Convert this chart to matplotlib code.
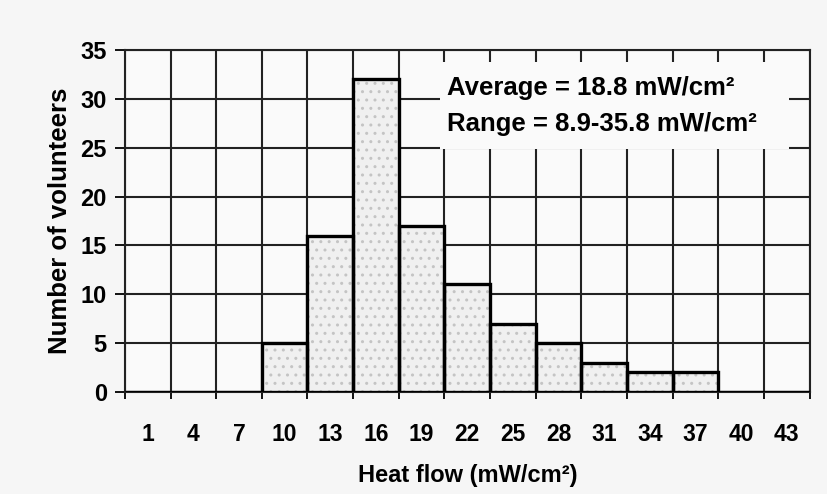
import matplotlib
matplotlib.use("Agg")
import matplotlib.pyplot as plt
from matplotlib.patches import Rectangle
import numpy as np

plt.rcParams['font.family'] = ['Liberation Sans', 'DejaVu Sans']
plt.rcParams['font.weight'] = 'bold'
plt.rcParams['hatch.linewidth'] = 1.0

categories = ['1', '4', '7', '10', '13', '16', '19', '22', '25', '28', '31', '34', '37', '40', '43']
volunteers = [0, 0, 0, 5, 16, 32, 17, 11, 7, 5, 3, 2, 2, 0, 0]
y_ticks = [0, 5, 10, 15, 20, 25, 30, 35]

fig = plt.figure(figsize=(8.27, 4.94), dpi=100, facecolor='#f6f6f6')
ax = fig.add_axes([0.151, 0.2065, 0.828, 0.6925])
ax.set_facecolor('#fafafa')

x = np.arange(len(categories))
ax.bar(x, volunteers, width=1.0, facecolor='#f0f0f0', edgecolor='#c4c4c4',
       linewidth=0, zorder=3, hatch='..')
ax.bar(x, volunteers, width=1.0, facecolor='none', edgecolor='black',
       linewidth=2.4, zorder=4)

ax.set_xlim(-0.5, len(categories) - 0.5)
ax.set_ylim(0, 35)
ax.set_yticks(y_ticks)
ax.set_yticklabels([str(v) for v in y_ticks], fontsize=17, fontweight='bold')

ax.set_xticks(x)
ax.set_xticklabels(categories, fontsize=16.5, fontweight='bold')
ax.tick_params(axis='x', which='major', length=0, pad=22)
ax.set_xticks(np.arange(-0.5, len(categories)), minor=True)
ax.tick_params(axis='x', which='minor', length=5, width=1.3, direction='out')
ax.tick_params(axis='y', length=7, width=1.3, direction='out', pad=6)
ax.grid(True, which='minor', axis='x', color='#222222', linewidth=1.5, zorder=1)
ax.grid(True, which='major', axis='y', color='#222222', linewidth=1.5, zorder=1)
for s in ax.spines.values():
    s.set_linewidth(1.5)
    s.set_color('#222222')

ax.set_xlabel('Heat flow (mW/cm²)', fontsize=17, fontweight='bold', labelpad=13)
ax.set_ylabel('Number of volunteers', fontsize=18.5, fontweight='bold', labelpad=6)

ax.add_patch(Rectangle((0.46, 0.71), 0.51, 0.255, transform=ax.transAxes,
                       facecolor='#fafafa', edgecolor='none', zorder=2))
ax.text(0.47, 0.889, 'Average = 18.8 mW/cm²',
        transform=ax.transAxes, fontsize=18.5, fontweight='bold', va='center', ha='left', zorder=5)
ax.text(0.47, 0.784, 'Range = 8.9-35.8 mW/cm²',
        transform=ax.transAxes, fontsize=18.5, fontweight='bold', va='center', ha='left', zorder=5)

fig.savefig('out.png', dpi=100, facecolor=fig.get_facecolor())
